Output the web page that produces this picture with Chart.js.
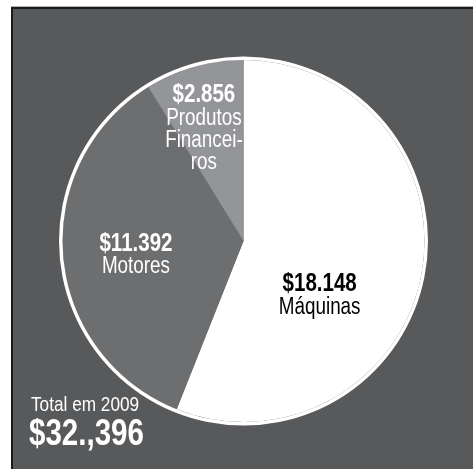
<!DOCTYPE html>
<html>
<head>
<meta charset="utf-8">
<script src="https://cdn.jsdelivr.net/npm/chart.js@4.4.1/dist/chart.umd.min.js"></script>
<style>
    html, body { margin: 0; padding: 0; background: #fff; width: 473px; height: 471px; overflow: hidden; }
    #panel {
        position: absolute; left: 11px; top: 7px; width: 460px; height: 460px;
        background: #58595b;
        border-left: 2px solid #1a1a1a;
        border-top: 2px solid #1a1a1a;
        box-shadow: 0 -1px 0 #b5b5b5;
    }
    #chart { display: block; }
</style>
</head>
<body>
<div id="panel">
    <canvas id="chart" width="460" height="460"></canvas>
</div>
<script>
// data
const categories = ['Máquinas', 'Motores', 'Produtos Financeiros'];
const values = [18148, 11392, 2856];
const valueLabels = ['$18.148', '$11.392', '$2.856'];
const nameLines = [['Máquinas'], ['Motores'], ['Produtos', 'Financei-', 'ros']];
const totalTitle = 'Total em 2009';
const totalValue = '$32.,396';

const sliceColors = ['#ffffff', '#6d6e70', '#939598'];
const textColors = ['#000000', '#ffffff', '#ffffff'];
// label placement: angle (deg, 0 = 3 o'clock, clockwise) and distance as part of radius
const labelAngle = [36, 172, -109.5];
const labelDist = [0.52, 0.6, 0.655];

const FONT = '"Liberation Sans", Arial, sans-serif';
const NARROW = 0.82; // squeeze text to look like a condensed face

function narrowText(ctx, text, x, y, font, align) {
    ctx.save();
    ctx.font = font;
    ctx.textAlign = align;
    ctx.textBaseline = 'middle';
    ctx.translate(x, y);
    ctx.scale(NARROW, 1);
    ctx.fillText(text, 0, 0);
    ctx.restore();
}

const sliceLabels = {
    id: 'sliceLabels',
    afterDatasetsDraw(chart) {
        const ctx = chart.ctx;
        const meta = chart.getDatasetMeta(1);
        meta.data.forEach(function (arc, i) {
            const a = labelAngle[i] * Math.PI / 180;
            const r = arc.outerRadius * labelDist[i];
            const cx = arc.x + Math.cos(a) * r;
            const cy = arc.y + Math.sin(a) * r;
            const lines = [valueLabels[i]].concat(nameLines[i]);
            const lh = 22;
            let y = cy - (lines.length - 1) * lh / 2;
            ctx.fillStyle = textColors[i];
            lines.forEach(function (t, k) {
                const f = (k === 0 ? 'bold 25px ' : '23px ') + FONT;
                narrowText(ctx, t, cx, y + (k === 0 ? -1 : 0), f, 'center');
                y += lh;
            });
        });
        // total in the lower left corner
        ctx.fillStyle = '#ffffff';
        narrowText(ctx, totalTitle, 18, 396, '21px ' + FONT, 'left');
        narrowText(ctx, totalValue, 16, 426, 'bold 36px ' + FONT, 'left');
    }
};

new Chart(document.getElementById('chart'), {
    type: 'pie',
    data: {
        labels: categories,
        datasets: [{
            // thin white rim round the pie
            data: [1],
            backgroundColor: ['#ffffff'],
            borderWidth: 0,
            weight: 0.0193
        }, {
            data: values,
            backgroundColor: sliceColors,
            borderWidth: 0,
            weight: 1
        }]
    },
    options: {
        responsive: false,
        animation: false,
        layout: { padding: { left: 46, right: 45, top: 47.5, bottom: 43.5 } },
        plugins: {
            legend: { display: false },
            tooltip: { enabled: false }
        }
    },
    plugins: [sliceLabels]
});
</script>
</body>
</html>
